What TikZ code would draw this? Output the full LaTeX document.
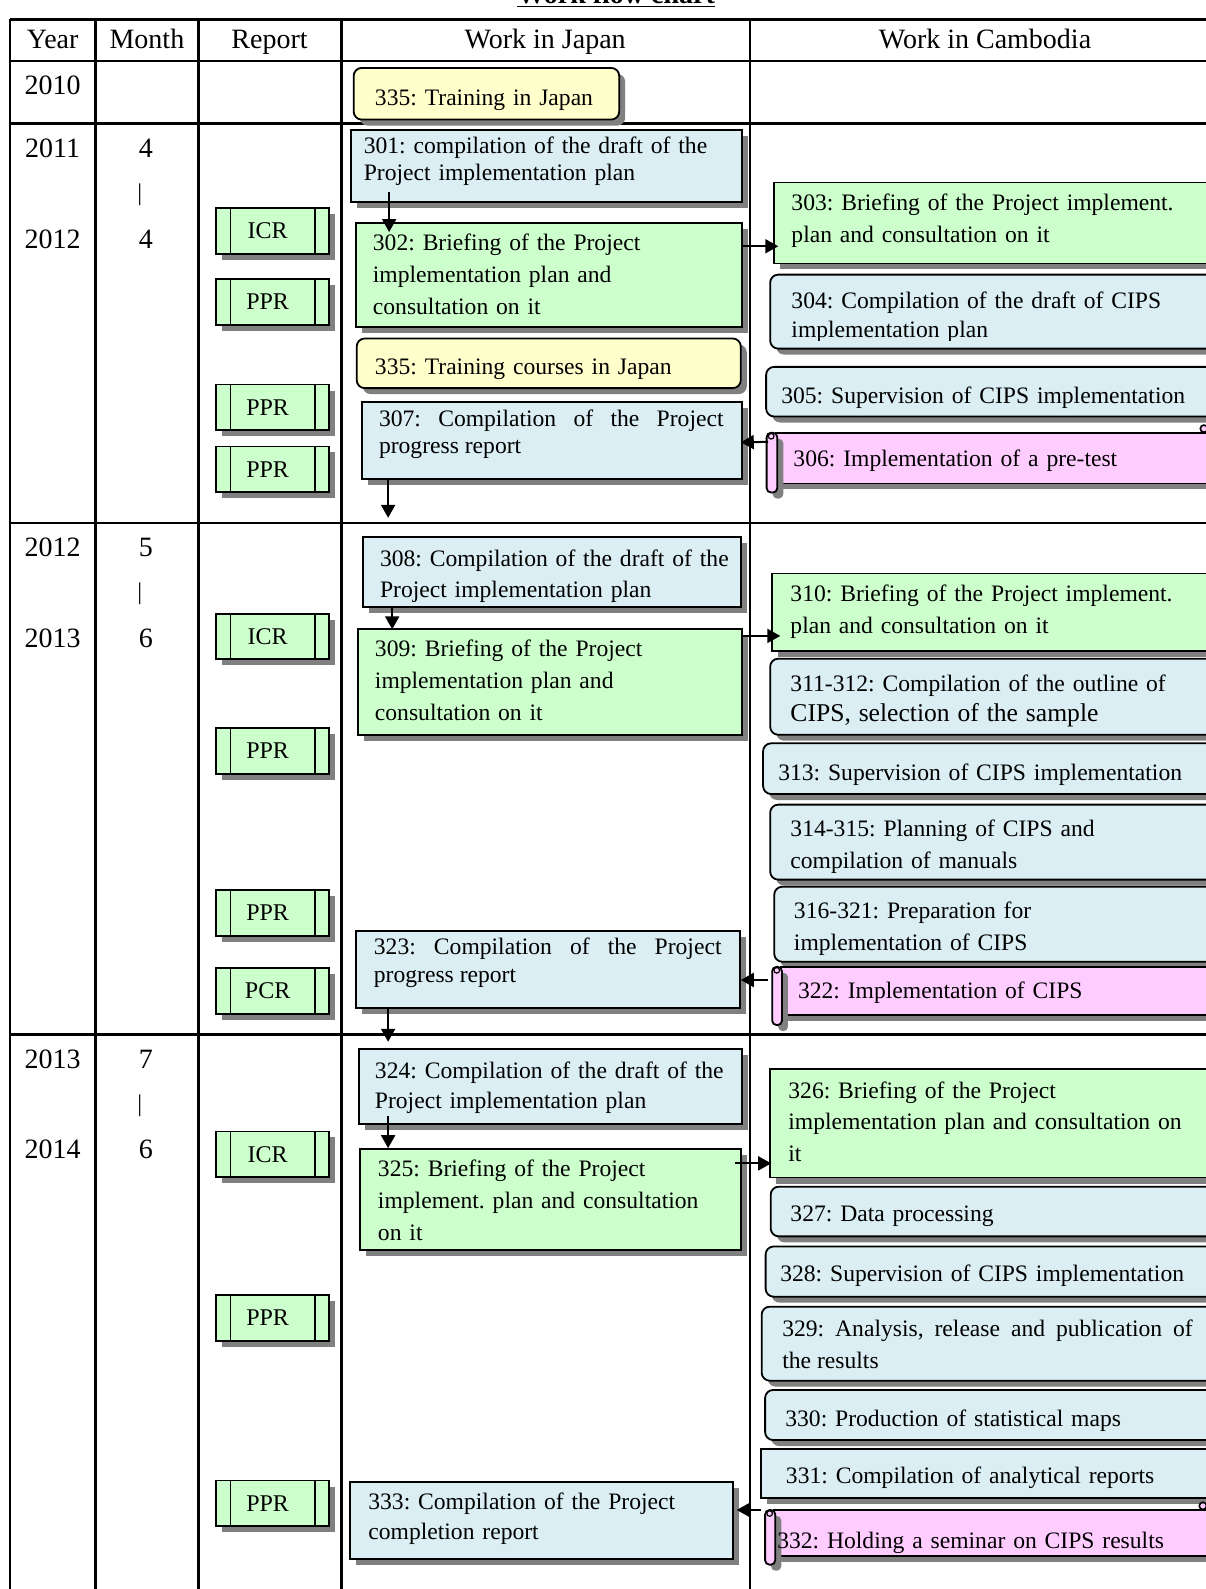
\documentclass[tikz,border=0pt]{standalone}
\usepackage{fontspec}
\setmainfont{Liberation Serif}
\frenchspacing
\usetikzlibrary{shadows,calc,arrows.meta}
\definecolor{cgreen}{HTML}{CCFFCC}
\definecolor{cblue}{HTML}{DAEEF3}
\definecolor{cyellow}{HTML}{FFFFCC}
\definecolor{cpink}{HTML}{FFCCFF}
\definecolor{cshadow}{HTML}{808080}
\tikzset{
  shad/.style={drop shadow={shadow xshift=3pt, shadow yshift=-3pt, fill=cshadow, opacity=1}},
  boxbase/.style={draw=black, line width=0.9pt, inner sep=0pt, outer sep=0pt, shad},
  jblue/.style={boxbase, fill=cblue},
  jgreen/.style={boxbase, fill=cgreen},
  ryellow/.style={boxbase, fill=cyellow, rounded corners=4pt},
  rblue/.style={boxbase, fill=cblue, rounded corners=4pt},
  spink/.style={boxbase, fill=cpink},
  reportbox/.style={boxbase, fill=cgreen, minimum width={111*0.5067pt}, minimum height={45*0.5067pt},
     font=\fontsize{12}{14}\selectfont,
     path picture={
       \draw[line width=0.9pt] ([xshift=7.1pt]path picture bounding box.north west) -- ([xshift=7.1pt]path picture bounding box.south west);
       \draw[line width=0.9pt] ([xshift=-7.1pt]path picture bounding box.north east) -- ([xshift=-7.1pt]path picture bounding box.south east);}},
  txt/.style={anchor=base west, inner sep=0pt, outer sep=0pt, align=left},
  jtxt/.style={anchor=base west, inner sep=0pt, outer sep=0pt, align=justify},
  hd/.style={font=\fontsize{14}{16}\selectfont, anchor=base, inner sep=0pt},
  arr/.style={line width=1pt, -{Triangle[length=6.5pt, width=7pt]}},
  tline/.style={line width=1.3pt},
}
\newcommand\mkbox[6]{\node[#2, minimum width={(#5-#3)*0.5067pt}, minimum height={(#6-#4)*0.5067pt}] (#1) at ({(#3+#5)/2},{(#4+#6)/2}) {};}
\newcommand\mktext[6][txt]{\node[#1, text width={#4*0.5067pt}, font=\fontsize{11.8}{#5}\selectfont] (#2) at (#3) {#6};}
\newcommand\rlab[1]{\raisebox{-2pt}{#1}\kern5pt}
\newcommand\mkscroll[7]{%
  \mkbox{#1}{spink}{#3}{#4}{#5}{#6}
  \filldraw[fill=cpink, line width=0.9pt, rounded corners=2.2pt, shad] (#2,#4) rectangle (#3+1,#7);
  \filldraw[fill=cpink, line width=0.6pt] ({#2+4.5},{#4+3.5}) circle[radius=1.4pt];
}
\begin{document}
\begin{tikzpicture}[x=0.5067pt,y=-0.5067pt]
\useasboundingbox (0,0) rectangle (1190,1568);
\clip (0,0) rectangle (1190,1568);
\fill[white] (0,0) rectangle (1190,1568);

% title
\node[anchor=base, inner sep=0pt, font=\fontsize{14}{16}\selectfont\bfseries] (title) at (608,3) {\underline{Work flow chart}};

% table lines
\draw[tline] (10,19) -- (1195,19);
\draw[tline] (10,60) -- (1195,60);
\draw[tline] (10,122) -- (1195,122);
\draw[tline] (10,516) -- (1195,516);
\draw[tline] (10,1021) -- (1195,1021);
\foreach \x in {10,94,196,337,740} \draw[tline] (\x,19) -- (\x,1575);

% headers
\node[hd] (hyear) at (52,48) {Year};
\node[hd] (hmonth) at (145,48) {Month};
\node[hd] (hreport) at (266,48) {Report};
\node[hd] (hjapan) at (538,48) {Work in Japan};
\node[hd] (hcamb) at (972,48) {Work in Cambodia};

% years and months
\node[hd] (y2010) at (52,93) {2010};
\node[hd] (y2011) at (52,155) {2011};
\node[hd] (m11) at (144,155) {4};
\node[hd, font=\fontsize{12}{14}\selectfont, anchor=center] (bar1) at (138,192) {|};
\node[hd] (y2012a) at (52,245) {2012};
\node[hd] (m12) at (144,245) {4};
\node[hd] (y2012b) at (52,549) {2012};
\node[hd] (m21) at (144,549) {5};
\node[hd, font=\fontsize{12}{14}\selectfont, anchor=center] (bar2) at (138,586) {|};
\node[hd] (y2013a) at (52,639) {2013};
\node[hd] (m22) at (144,639) {6};
\node[hd] (y2013b) at (52,1054) {2013};
\node[hd] (m31) at (144,1054) {7};
\node[hd, font=\fontsize{12}{14}\selectfont, anchor=center] (bar3) at (138,1091) {|};
\node[hd] (y2014) at (52,1143) {2014};
\node[hd] (m32) at (144,1143) {6};

% reports
\node[reportbox] (r11) at (269,228) {\rlab{ICR}};
\node[reportbox] (r12) at (269,298) {\rlab{PPR}};
\node[reportbox] (r13) at (269,402) {\rlab{PPR}};
\node[reportbox] (r14) at (269,463) {\rlab{PPR}};
\node[reportbox] (r21) at (269,628) {\rlab{ICR}};
\node[reportbox] (r22) at (269,741) {\rlab{PPR}};
\node[reportbox] (r23) at (269,901) {\rlab{PPR}};
\node[reportbox] (r24) at (269,978) {\rlab{PCR}};
\node[reportbox] (r31) at (269,1139) {\rlab{ICR}};
\node[reportbox] (r32) at (269,1300.5) {\rlab{PPR}};
\node[reportbox] (r33) at (269,1483.5) {\rlab{PPR}};

% 2010
\mkbox{b335a}{ryellow}{349}{67}{611}{118}
\mktext{t335a}{370,104}{300}{16}{335: Training in Japan}

% section 1 Japan
\mkbox{b301}{jblue}{346}{128}{732}{199}
\mktext{t301}{359,151}{380}{13.7}{301: compilation of the draft of the\\Project implementation plan}
\mkbox{b302}{jgreen}{351}{220}{732}{323}
\mktext{t302}{368,247}{360}{16}{302: Briefing of the Project\\implementation plan and\\consultation on it}
\mkbox{b335b}{ryellow}{352}{334}{731}{383}
\mktext{t335b}{370,370}{350}{16}{335: Training courses in Japan}
\mkbox{b307}{jblue}{357}{397}{732}{473}
\mktext[jtxt]{t307}{374,421}{340}{13.2}{307: Compilation of the Project\linebreak progress report}

% section 1 Cambodia
\mkbox{b303}{jgreen}{764}{180}{1205}{260}
\mktext{t303}{781,208}{420}{16}{303: Briefing of the Project implement.\\plan and consultation on it}
\mkbox{b304}{rblue}{760}{271}{1205}{344}
\begin{scope}
\clip (760,271) rectangle (1205,336);
\mktext{t304}{781,304}{420}{14.9}{304: Compilation of the draft of CIPS\\implementation plan}
\end{scope}
\mkbox{b305}{rblue}{756}{362}{1205}{411}
\mktext{t305}{771,398}{420}{16}{305: Supervision of CIPS implementation}
\mkscroll{b306}{756.5}{766}{427}{1205}{477}{486}
\filldraw[fill=cpink, line width=0.8pt] (1188,423) circle[radius=1.8pt];
\mktext{t306}{783,460.5}{400}{16}{306: Implementation of a pre-test}

% section 2 Japan
\mkbox{b308}{jblue}{358}{530}{731}{599}
\mktext{t308}{375,559}{360}{15.7}{308: Compilation of the draft of the\\Project implementation plan}
\mkbox{b309}{jgreen}{353}{621}{732}{725}
\mktext{t309}{370,648}{360}{16}{309: Briefing of the Project\\implementation plan and\\consultation on it}
\mkbox{b323}{jblue}{351}{919}{730}{995}
\mktext[jtxt]{t323}{369,942}{343}{13.7}{323: Compilation of the Project\linebreak progress report}

% section 2 Cambodia
\mkbox{b310}{jgreen}{762}{566}{1205}{642}
\mktext{t310}{780,594}{420}{15.7}{310: Briefing of the Project implement.\\plan and consultation on it}
\mkbox{b311}{rblue}{760}{650}{1205}{725}
\mktext{t311}{780,682.5}{420}{15}{311-312: Compilation of the outline of\\{\fontsize{12.8}{15}\selectfont CIPS, selection of the sample}}
\mkbox{b313}{rblue}{753}{733.5}{1205}{783.5}
\mktext{t313}{768,770}{430}{16}{313: Supervision of CIPS implementation}
\mkbox{b314}{rblue}{760}{794}{1205}{868}
\mktext{t314}{780,825.6}{420}{15.9}{314-315: Planning of CIPS and\\compilation of manuals}
\mkbox{b316}{rblue}{764}{875}{1205}{949}
\mktext{t316}{783.5,906}{410}{16}{316-321: Preparation for\\implementation of CIPS}
\mkscroll{b322}{762}{770.6}{954}{1205}{1001.6}{1011.5}
\mktext{t322}{787.5,985}{400}{16}{322: Implementation of CIPS}

% section 3 Japan
\mkbox{b324}{jblue}{354}{1035.5}{732}{1109.5}
\mktext{t324}{370,1064}{370}{15.2}{324: Compilation of the draft of the\\Project implementation plan}
\mkbox{b325}{jgreen}{355}{1134}{731}{1233.5}
\mktext{t325}{373,1161}{360}{15.9}{325: Briefing of the Project\\implement. plan and consultation\\on it}
\mkbox{b333}{jblue}{345.6}{1462}{723.6}{1538.4}
\mktext{t333}{363.5,1490}{360}{15}{333: Compilation of the Project\\completion report}

% section 3 Cambodia
\mkbox{b326}{jgreen}{760}{1055}{1205}{1162}
\mktext{t326}{778,1084}{420}{15.7}{326: Briefing of the Project\\implementation plan and consultation on\\it}
\mkbox{b327}{rblue}{760.5}{1171}{1205}{1220}
\mktext{t327}{780,1205.5}{420}{16}{327: Data processing}
\mkbox{b328}{rblue}{755.5}{1230}{1205}{1279.5}
\mktext{t328}{770,1264.7}{420}{16}{328: Supervision of CIPS implementation}
\mkbox{b329}{rblue}{751.6}{1289.4}{1205}{1362.4}
\mktext[jtxt]{t329}{772,1319}{405}{15.7}{329: Analysis, release and publication of\linebreak the results}
\mkbox{b330}{rblue}{755}{1371.6}{1205}{1421}
\mktext{t330}{775,1408}{420}{16}{330: Production of statistical maps}
\mkbox{b331}{jblue}{751}{1430}{1205}{1478.5}
\mktext{t331}{775.6,1463.7}{420}{16}{331: Compilation of analytical reports}
\mkscroll{b332}{755}{764}{1490}{1205}{1535.5}{1544}
\filldraw[fill=cpink, line width=0.8pt] (1187,1486) circle[radius=1.8pt];
\mktext{t332}{767,1528}{420}{16}{332: Holding a seminar on CIPS results}

% connectors
\draw[arr] ($(b301.south west)+(38,-10)$) -- ($(b302.north west)+(33,9)$);
\draw[arr] ($(b302.north east)+(0,23)$) -- ($(b303.north west)+(4,63)$);
\draw[arr] ($(b306.north west)+(-8,9)$) -- ($(b307.north east)+(-1,39.5)$);
\draw[arr] ($(b307.south west)+(26,0)$) -- ++(0,38);
\draw[arr] ($(b308.south west)+(29,0)$) -- ($(b309.north west)+(34,0)$);
\draw[arr] ($(b309.north east)+(0,6.5)$) -- ($(b310.north west)+(8,61.5)$);
\draw[arr] ($(b322.north west)+(-12.6,13)$) -- ($(b323.north east)+(1,48)$);
\draw[arr] ($(b323.south west)+(32,0)$) -- ++(0,33);
\draw[arr] ($(b324.south west)+(29,-8.5)$) -- ($(b325.north west)+(28,-1)$);
\draw[arr] ($(b325.north east)+(-6,14)$) -- ($(b326.north west)+(1,93)$);
\draw[arr] ($(b332.north west)+(-13,0)$) -- ($(b333.north east)+(3.4,28)$);
\end{tikzpicture}
\end{document}
